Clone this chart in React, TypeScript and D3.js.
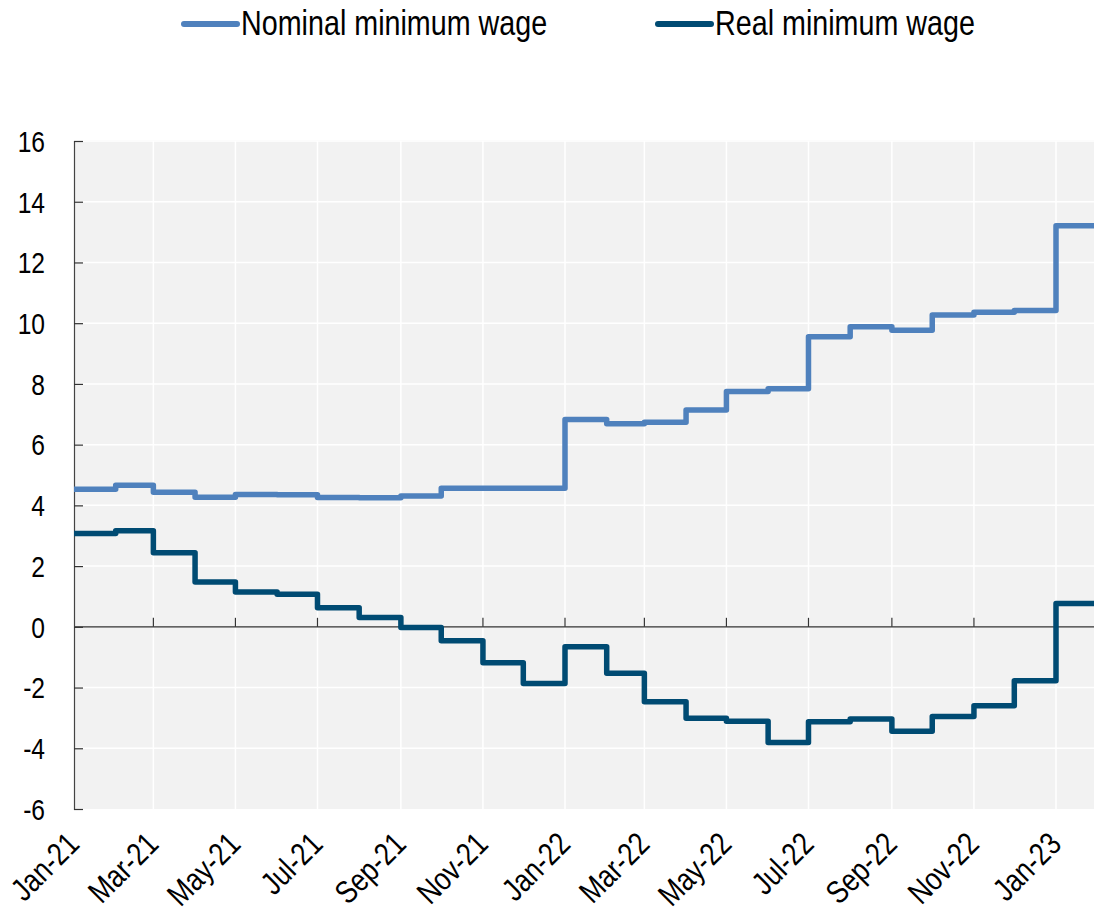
import React, { useRef, useEffect } from "react";
import * as d3 from "d3";

// monthly observations, Jan-21 .. Jan-23 (last step runs to the chart edge)
const months: string[] = [
  "2021-01", "2021-02", "2021-03", "2021-04", "2021-05", "2021-06",
  "2021-07", "2021-08", "2021-09", "2021-10", "2021-11", "2021-12",
  "2022-01", "2022-02", "2022-03", "2022-04", "2022-05", "2022-06",
  "2022-07", "2022-08", "2022-09", "2022-10", "2022-11", "2022-12",
  "2023-01",
];

const nominal: number[] = [
  4.53, 4.66, 4.43, 4.27, 4.36, 4.35, 4.26, 4.25, 4.31, 4.56, 4.56, 4.56,
  6.83, 6.69, 6.74, 7.14, 7.75, 7.84, 9.55, 9.88, 9.77, 10.27, 10.36, 10.42,
  13.21,
];

const real: number[] = [
  3.07, 3.16, 2.44, 1.48, 1.15, 1.07, 0.63, 0.31, -0.02, -0.46, -1.18, -1.87,
  -0.66, -1.53, -2.47, -3.01, -3.11, -3.81, -3.13, -3.04, -3.44, -2.95, -2.6, -1.78,
  0.77,
];

const endMonth = "2023-02";
const yTicks: number[] = [-6, -4, -2, 0, 2, 4, 6, 8, 10, 12, 14, 16];
const xTickMonths: string[] = [
  "2021-01", "2021-03", "2021-05", "2021-07", "2021-09", "2021-11",
  "2022-01", "2022-03", "2022-05", "2022-07", "2022-09", "2022-11", "2023-01",
];

const seriesNames = ["Nominal minimum wage", "Real minimum wage"];
const colors = ["#4f81bd", "#004b73"];

// no narrow face installed, so squeeze Liberation Sans horizontally
const FONT = "'Liberation Sans', Arial, sans-serif";
const SQUEEZE = 0.82;

const App = () => {
  const container = useRef<SVGSVGElement | null>(null);

  const width = 1094;
  const height = 912;
  const margin = { left: 74, top: 141, bottom: 102 };

  useEffect(() => {
    const svg = d3.select(container.current);
    svg.selectAll("*").remove();

    const parse = d3.timeParse("%Y-%m");
    const fmt = d3.timeFormat("%b-%y");

    // Jan-21 -> 74, Jan-23 -> 1056
    const x = d3
      .scaleTime()
      .domain([parse("2021-01")!, parse("2023-01")!])
      .range([margin.left, 1056]);
    const xEnd = x(parse(endMonth)!);

    const y = d3
      .scaleLinear()
      .domain([-6, 16])
      .range([height - margin.bottom - 1, margin.top]);

    // plot background
    svg
      .append("rect")
      .attr("x", margin.left)
      .attr("y", y(16) - 1)
      .attr("width", xEnd - margin.left)
      .attr("height", y(-6) - y(16) + 1)
      .attr("fill", "#f2f2f2");

    // gridlines
    svg
      .append("g")
      .selectAll("line")
      .data(yTicks.filter((d) => d !== 0 && d !== -6))
      .enter()
      .append("line")
      .attr("x1", margin.left)
      .attr("x2", xEnd)
      .attr("y1", (d) => y(d))
      .attr("y2", (d) => y(d))
      .attr("stroke", "#fff")
      .attr("stroke-width", 1.5);

    svg
      .append("g")
      .selectAll("line")
      .data(xTickMonths.slice(1))
      .enter()
      .append("line")
      .attr("x1", (d) => x(parse(d)!))
      .attr("x2", (d) => x(parse(d)!))
      .attr("y1", y(16))
      .attr("y2", y(-6))
      .attr("stroke", "#fff")
      .attr("stroke-width", 1.5);

    // zero line + ticks
    svg
      .append("line")
      .attr("x1", margin.left)
      .attr("x2", xEnd)
      .attr("y1", y(0))
      .attr("y2", y(0))
      .attr("stroke", "#333")
      .attr("stroke-width", 1.2);

    svg
      .append("g")
      .selectAll("line")
      .data(xTickMonths.slice(1))
      .enter()
      .append("line")
      .attr("x1", (d) => x(parse(d)!))
      .attr("x2", (d) => x(parse(d)!))
      .attr("y1", y(0))
      .attr("y2", y(0) - 9)
      .attr("stroke", "#333")
      .attr("stroke-width", 1.2);

    // y axis
    const yAxis = svg
      .append("g")
      .attr("transform", `translate(${margin.left},0)`)
      .call(d3.axisRight(y).tickValues(yTicks).tickSize(9).tickFormat(() => ""));
    yAxis.select(".domain").attr("stroke", "#444").attr("stroke-width", 1.2);
    yAxis.selectAll(".tick line").attr("stroke", "#333").attr("stroke-width", 1.2);

    svg
      .append("g")
      .selectAll("text")
      .data(yTicks)
      .enter()
      .append("text")
      .attr("transform", (d) => `translate(45,${y(d)}) scale(${SQUEEZE},1)`)
      .attr("dy", "0.36em")
      .attr("text-anchor", "end")
      .style("font-family", FONT)
      .style("font-size", "30px")
      .style("fill", "#000")
      .text((d) => d);

    // x labels, rotated
    svg
      .append("g")
      .selectAll("text")
      .data(xTickMonths)
      .enter()
      .append("text")
      .attr(
        "transform",
        (d) =>
          `translate(${x(parse(d)!) + 7},${y(-6) + 37}) rotate(-45) scale(${SQUEEZE},1)`
      )
      .attr("text-anchor", "end")
      .style("font-family", FONT)
      .style("font-size", "32px")
      .style("fill", "#000")
      .text((d) => fmt(parse(d)!));

    // step lines
    const line = d3
      .line<[Date, number]>()
      .x((d) => x(d[0]))
      .y((d) => y(d[1]))
      .curve(d3.curveStepAfter);

    [nominal, real].forEach((vals, i) => {
      const pts: [Date, number][] = months.map((m, j) => [parse(m)!, vals[j]]);
      pts.push([parse(endMonth)!, vals[vals.length - 1]]);
      svg
        .append("path")
        .datum(pts)
        .attr("d", line)
        .attr("fill", "none")
        .attr("stroke", colors[i])
        .attr("stroke-width", 5.5)
        .attr("stroke-linejoin", "round");
    });

    // legend
    const legendPos = [184, 658];
    const legend = svg.append("g");
    seriesNames.forEach((name, i) => {
      legend
        .append("line")
        .attr("x1", legendPos[i])
        .attr("x2", legendPos[i] + 53)
        .attr("y1", 24)
        .attr("y2", 24)
        .attr("stroke", colors[i])
        .attr("stroke-width", 6)
        .attr("stroke-linecap", "round");
      legend
        .append("text")
        .attr("transform", `translate(${legendPos[i] + 57},35) scale(${SQUEEZE},1)`)
        .style("font-family", FONT)
        .style("font-size", "35px")
        .style("fill", "#000")
        .text(name);
    });
    // eslint-disable-next-line react-hooks/exhaustive-deps
  }, []);

  return (
    <div style={{ position: "absolute", left: 0, top: 0, width: width, height: height }}>
      <svg ref={container} width={width} height={height} style={{ display: "block" }} />
    </div>
  );
};

export default App;
